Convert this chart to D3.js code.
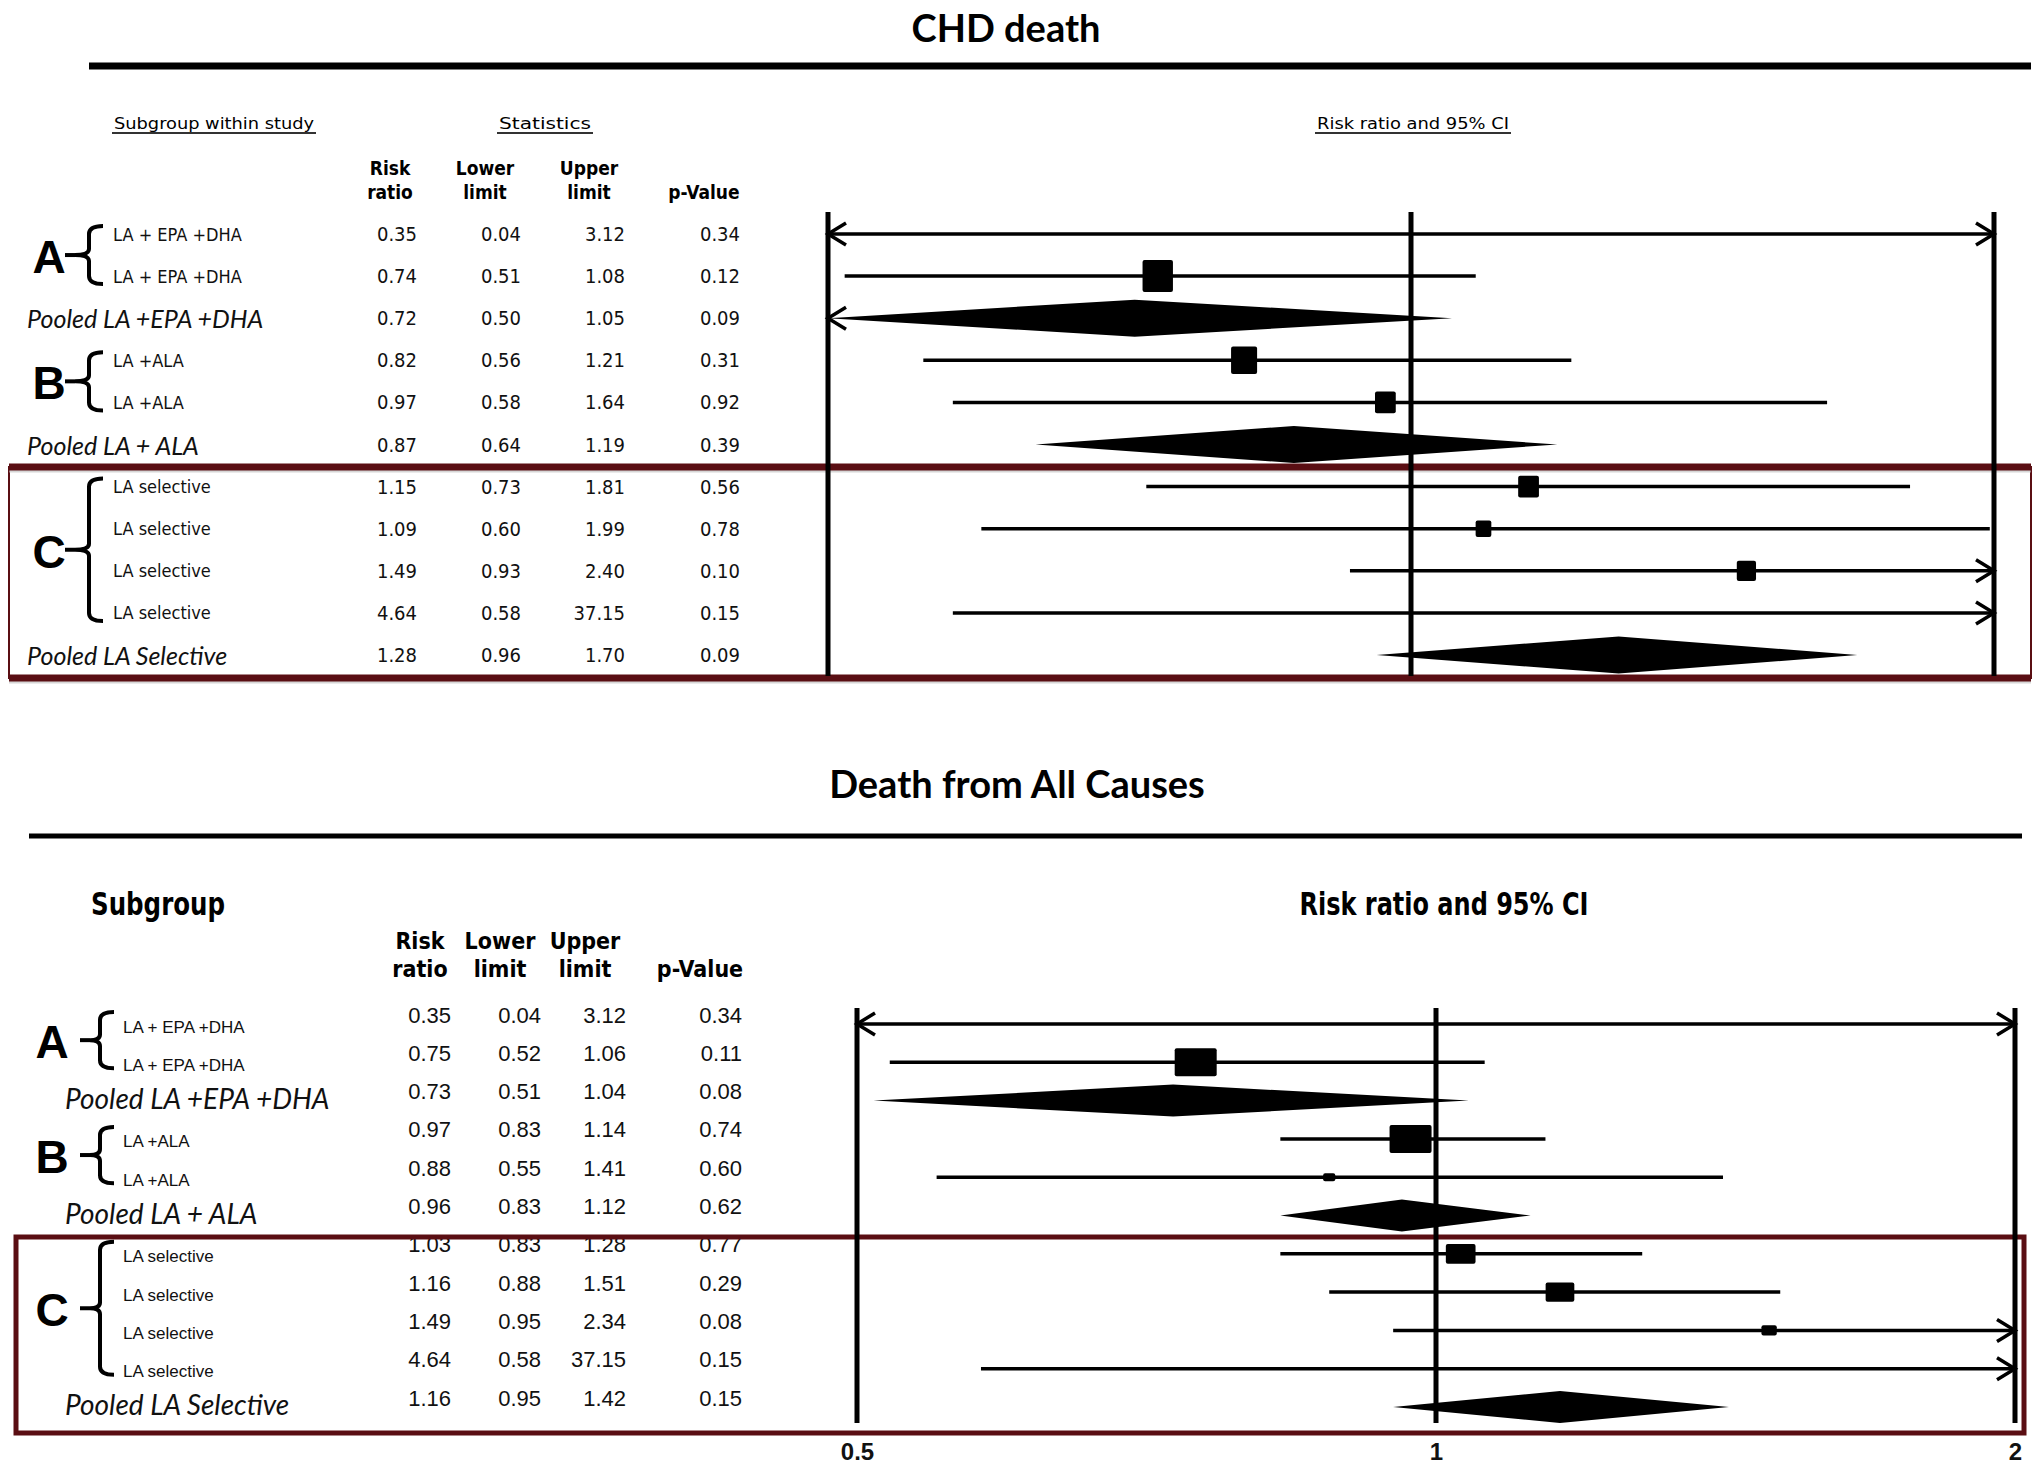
<!DOCTYPE html>
<html>
<head>
<meta charset="utf-8">
<script src="https://cdn.jsdelivr.net/npm/d3@7"></script>
<style>
body{margin:0;background:#fff;}
svg{display:block;}
</style>
</head>
<body>
<div id="chart"></div>
<script>
// rows, same order in both panels
var rowLabels = ["LA + EPA +DHA", "LA + EPA +DHA", "Pooled LA +EPA +DHA",
                 "LA +ALA", "LA +ALA", "Pooled LA + ALA",
                 "LA selective", "LA selective", "LA selective", "LA selective", "Pooled LA Selective"];
var rowPooled = [false, false, true, false, false, true, false, false, false, false, true];

var groupLetters = ["A", "B", "C"];
var groupFirst = [0, 3, 6];
var groupLast = [1, 4, 9];

// CHD death
var chdRatio = [0.35, 0.74, 0.72, 0.82, 0.97, 0.87, 1.15, 1.09, 1.49, 4.64, 1.28];
var chdLower = [0.04, 0.51, 0.50, 0.56, 0.58, 0.64, 0.73, 0.60, 0.93, 0.58, 0.96];
var chdUpper = [3.12, 1.08, 1.05, 1.21, 1.64, 1.19, 1.81, 1.99, 2.40, 37.15, 1.70];
var chdP     = [0.34, 0.12, 0.09, 0.31, 0.92, 0.39, 0.56, 0.78, 0.10, 0.15, 0.09];
var chdWeight = [2, 30, 0, 22, 14, 0, 14, 8, 12, 3, 0];

// Death from all causes
var allRatio = [0.35, 0.75, 0.73, 0.97, 0.88, 0.96, 1.03, 1.16, 1.49, 4.64, 1.16];
var allLower = [0.04, 0.52, 0.51, 0.83, 0.55, 0.83, 0.83, 0.88, 0.95, 0.58, 0.95];
var allUpper = [3.12, 1.06, 1.04, 1.14, 1.41, 1.12, 1.28, 1.51, 2.34, 37.15, 1.42];
var allP     = [0.34, 0.11, 0.08, 0.74, 0.60, 0.62, 0.77, 0.29, 0.08, 0.15, 0.15];
var allWeight = [2, 30, 0, 30, 2.5, 0, 15, 14, 4, 3, 0];

var tickValues = [0.5, 1, 2];
var tickLabels = ["0.5", "1", "2"];

var W = 2040, H = 1467;
var narrow = '"Liberation Sans Narrow","DejaVu Sans Condensed",sans-serif';
var sans = '"Liberation Sans",Arial,sans-serif';
var lato = 'Lato,"Open Sans",sans-serif';
var boxColor = "#5a0e13";

var svg = d3.select("#chart").append("svg")
  .attr("width", W)
  .attr("height", H)
  .attr("viewBox", "0 0 " + W + " " + H);

function brace(g, x, y0, y1, ym, tip, hook) {
  var p = "M" + (x + hook) + "," + y0 +
    " Q" + x + "," + y0 + " " + x + "," + (y0 + 8) +
    " L" + x + "," + (ym - 6) +
    " Q" + x + "," + ym + " " + (x - tip) + "," + ym +
    " Q" + x + "," + ym + " " + x + "," + (ym + 6) +
    " L" + x + "," + (y1 - 8) +
    " Q" + x + "," + y1 + " " + (x + hook) + "," + y1;
  g.append("path").attr("d", p)
    .attr("fill", "none").attr("stroke", "#000").attr("stroke-width", 4);
  g.append("line")
    .attr("x1", x - tip - 10).attr("x2", x - tip)
    .attr("y1", ym).attr("y2", ym)
    .attr("stroke", "#000").attr("stroke-width", 4);
}

function chevron(g, x, y, dir) {
  g.append("path")
    .attr("d", "M" + (x - dir * 18) + "," + (y - 11) + " L" + x + "," + y + " L" + (x - dir * 18) + "," + (y + 11))
    .attr("fill", "none").attr("stroke", "#000").attr("stroke-width", 3.5);
}

function drawPanel(c, ratio, lower, upper, pval, weight) {
  var g = svg.append("g");

  var x = d3.scaleLog().base(2).domain([0.5, 2]).range([c.x0, c.x1]);
  var y = d3.scalePoint().domain(d3.range(rowLabels.length)).range([c.yTop, c.yBot]);
  var size = d3.scaleSqrt().domain([0, 30]).range([0, c.sqMax]);
  var fmt = d3.format(".2f");

  // title and rule
  g.append("text").attr("x", c.titleX).attr("y", c.titleY)
    .attr("text-anchor", "middle").attr("dominant-baseline", "central")
    .style("font-family", lato).style("font-weight", 700).style("font-size", "38px")
    .text(c.title);
  g.append("line").attr("x1", c.ruleX0).attr("x2", c.ruleX1)
    .attr("y1", c.ruleY).attr("y2", c.ruleY)
    .attr("stroke", "#000").attr("stroke-width", c.ruleW);

  // section headings
  c.heads.forEach(function(h) {
    var t = g.append("text").attr("x", h.x).attr("y", c.headY)
      .attr("text-anchor", "middle").attr("dominant-baseline", "central")
      .style("font-family", c.headFont).style("font-weight", c.headBold ? 700 : 400)
      .style("font-size", c.headSize + "px")
      .text(h.text);
    if (h.len) t.attr("textLength", h.len).attr("lengthAdjust", "spacingAndGlyphs");
    if (c.headUnderline) {
      g.append("line").attr("x1", h.x - h.len / 2 - 2).attr("x2", h.x + h.len / 2 + 2)
        .attr("y1", c.headY + 10).attr("y2", c.headY + 10)
        .attr("stroke", "#333").attr("stroke-width", 2);
    }
  });

  // column headers
  var colHead = [["Risk", "ratio"], ["Lower", "limit"], ["Upper", "limit"], ["", "p-Value"]];
  colHead.forEach(function(lines, i) {
    lines.forEach(function(s, j) {
      g.append("text").attr("x", c.colHeadX[i]).attr("y", c.colHeadY[j])
        .attr("text-anchor", "middle").attr("dominant-baseline", "central")
        .style("font-family", narrow).style("font-weight", 700)
        .style("font-size", c.colHeadSize + "px")
        .text(s);
    });
  });

  // row labels
  rowLabels.forEach(function(s, i) {
    var pooled = rowPooled[i];
    g.append("text")
      .attr("x", pooled ? c.pooledX : c.labelX)
      .attr("y", y(i) + (pooled ? c.pooledDy : c.labelDy))
      .attr("dominant-baseline", "central")
      .style("font-family", pooled ? lato : c.labelFont)
      .style("font-style", pooled ? "italic" : "normal")
      .style("font-size", (pooled ? c.pooledSize : c.labelSize) + "px")
      .style("fill", "#111")
      .text(s);
  });

  // group letters and braces
  groupLetters.forEach(function(L, k) {
    var y0 = y(groupFirst[k]) - c.braceUp, y1 = y(groupLast[k]) + c.braceDown;
    var ym = (y0 + y1) / 2;
    g.append("text").attr("x", c.letterX).attr("y", ym + 2)
      .attr("text-anchor", "middle").attr("dominant-baseline", "central")
      .style("font-family", sans).style("font-weight", 700).style("font-size", "46px")
      .text(L);
    brace(g, c.braceX, y0, y1, ym, c.braceTip, c.braceHook);
  });

  // statistics columns
  var cols = [ratio, lower, upper, pval];
  cols.forEach(function(arr, ci) {
    g.selectAll(null).data(arr).enter().append("text")
      .attr("x", c.colRight[ci])
      .attr("y", function(d, i) { return y(i) + c.statDy; })
      .attr("text-anchor", "end").attr("dominant-baseline", "central")
      .style("font-family", c.statFont).style("font-size", c.statSize + "px")
      .style("fill", "#111")
      .text(function(d) { return fmt(d); });
  });

  // highlight box around group C
  var b = c.box;
  if (b.thinSides) {
    g.append("rect").attr("x", b.x0).attr("y", b.y0)
      .attr("width", b.x1 - b.x0).attr("height", b.y1 - b.y0)
      .attr("fill", "none").attr("stroke", boxColor).attr("stroke-width", 2);
    [b.y0, b.y1].forEach(function(yy) {
      g.append("line").attr("x1", b.x0).attr("x2", b.x1).attr("y1", yy + 4).attr("y2", yy + 4)
        .attr("stroke", "#bbb").attr("stroke-width", 3).attr("opacity", 0.6);
      g.append("line").attr("x1", b.x0).attr("x2", b.x1).attr("y1", yy).attr("y2", yy)
        .attr("stroke", boxColor).attr("stroke-width", 7);
    });
  } else {
    g.append("rect").attr("x", b.x0).attr("y", b.y0)
      .attr("width", b.x1 - b.x0).attr("height", b.y1 - b.y0)
      .attr("fill", "none").attr("stroke", boxColor).attr("stroke-width", 5);
  }

  // reference lines
  g.selectAll(null).data(tickValues).enter().append("line")
    .attr("x1", function(d) { return x(d); }).attr("x2", function(d) { return x(d); })
    .attr("y1", c.vTop).attr("y2", c.vBot)
    .attr("stroke", "#000").attr("stroke-width", 5);

  // confidence intervals, squares and diamonds
  rowLabels.forEach(function(s, i) {
    var yy = y(i);
    var lo = Math.max(lower[i], 0.5), hi = Math.min(upper[i], 2);
    if (rowPooled[i]) {
      var h = c.diamondH / 2;
      g.append("polygon")
        .attr("points", [[x(lo), yy], [x(ratio[i]), yy - h], [x(hi), yy], [x(ratio[i]), yy + h]].join(" "))
        .attr("fill", "#000");
    } else {
      g.append("line").attr("x1", x(lo)).attr("x2", x(hi)).attr("y1", yy).attr("y2", yy)
        .attr("stroke", "#000").attr("stroke-width", 3.5);
      if (ratio[i] >= 0.5 && ratio[i] <= 2 && weight[i] > 0) {
        var sz = size(weight[i]);
        var sw = sz * c.sqAspect, sh = sz;
        g.append("rect")
          .attr("x", x(ratio[i]) - sw / 2).attr("y", yy - sh / 2)
          .attr("width", sw).attr("height", sh)
          .attr("rx", 2).attr("fill", "#000");
      }
    }
    if (lower[i] <= 0.5) chevron(g, x(0.5), yy, -1);
    if (upper[i] > 2) chevron(g, x(2), yy, 1);
  });

  // axis labels (bottom panel only)
  if (c.axis) {
    var axis = d3.axisBottom(x).tickValues(tickValues)
      .tickFormat(function(d, i) { return tickLabels[i]; })
      .tickSize(0).tickPadding(0);
    var ag = g.append("g").attr("transform", "translate(0," + c.axisY + ")").call(axis);
    ag.select(".domain").remove();
    ag.selectAll("text")
      .attr("y", 0).attr("dy", "0.35em")
      .style("font-family", sans).style("font-weight", 700).style("font-size", "24px")
      .attr("fill", "#111");
  }
}

drawPanel({
  title: "CHD death", titleX: 1006, titleY: 27,
  ruleX0: 89, ruleX1: 2031, ruleY: 66, ruleW: 7,
  heads: [{text: "Subgroup within study", x: 214, len: 200},
          {text: "Statistics", x: 545, len: 92},
          {text: "Risk ratio and 95% CI", x: 1413, len: 192}],
  headY: 123, headSize: 16, headFont: narrow, headBold: false, headUnderline: true,
  colHeadX: [390, 485, 589, 704], colHeadY: [168, 192], colHeadSize: 19,
  labelX: 113, labelDy: 0, labelSize: 18, labelFont: narrow,
  pooledX: 27, pooledDy: 0, pooledSize: 25,
  letterX: 49, braceX: 89, braceTip: 14, braceHook: 14, braceUp: 8, braceDown: 8,
  colRight: [417, 521, 625, 740], statDy: 0, statSize: 20, statFont: narrow,
  x0: 828, x1: 1994, yTop: 234, yBot: 655, vTop: 212, vBot: 676,
  sqMax: 32, sqAspect: 0.95, diamondH: 37,
  box: {x0: 9, x1: 2031, y0: 467, y1: 678, thinSides: true},
  axis: false
}, chdRatio, chdLower, chdUpper, chdP, chdWeight);

drawPanel({
  title: "Death from All Causes", titleX: 1017, titleY: 783,
  ruleX0: 29, ruleX1: 2022, ruleY: 836, ruleW: 5,
  heads: [{text: "Subgroup", x: 158, len: 134},
          {text: "Risk ratio and 95% CI", x: 1444, len: 289}],
  headY: 904, headSize: 32, headFont: narrow, headBold: true, headUnderline: false,
  colHeadX: [420, 500, 585, 700], colHeadY: [941, 969], colHeadSize: 23,
  labelX: 123, labelDy: 3, labelSize: 17, labelFont: sans,
  pooledX: 65, pooledDy: -3, pooledSize: 28,
  letterX: 52, braceX: 100, braceTip: 10, braceHook: 14, braceUp: 12, braceDown: 6,
  colRight: [451, 541, 626, 742], statDy: -9, statSize: 22, statFont: sans,
  x0: 857, x1: 2015, yTop: 1024, yBot: 1407, vTop: 1008, vBot: 1423,
  sqMax: 28, sqAspect: 1.5, diamondH: 32,
  box: {x0: 16, x1: 2024, y0: 1237, y1: 1433, thinSides: false},
  axis: true, axisY: 1452
}, allRatio, allLower, allUpper, allP, allWeight);
</script>
</body>
</html>
